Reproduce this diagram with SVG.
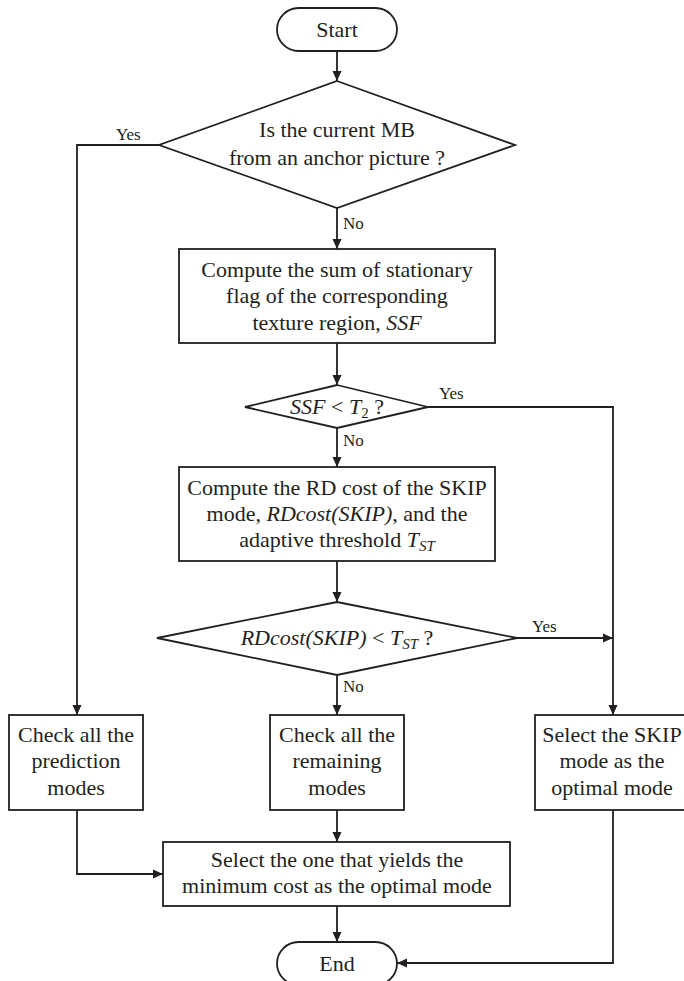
<svg xmlns="http://www.w3.org/2000/svg" width="684" height="981" viewBox="0 0 684 981">
<defs>
<style>
.s{fill:#fff;stroke:#231f20;stroke-width:1.8}
.c{fill:none;stroke:#231f20;stroke-width:1.8}
text{font-family:"Liberation Serif","Times New Roman",serif;fill:#231f20}
.t{font-size:22px;text-anchor:middle}
.l{font-size:17px}
.i{font-style:italic}
</style>
<marker id="a" viewBox="0 0 10 10" refX="10" refY="5" markerWidth="10" markerHeight="10" markerUnits="userSpaceOnUse" orient="auto">
<path d="M0,0.5 L10,5 L0,9.5 Z" fill="#231f20"/>
</marker>
</defs>
<rect width="684" height="981" fill="#fff"/>
<g id="connectors">
<path class="c" d="M337,51 V81" marker-end="url(#a)"/>
<path class="c" d="M159,145 H77 V715" marker-end="url(#a)"/>
<path class="c" d="M337,208 V249" marker-end="url(#a)"/>
<path class="c" d="M337,343 V385" marker-end="url(#a)"/>
<path class="c" d="M428,407 H613 V715" marker-end="url(#a)"/>
<path class="c" d="M337,428 V467" marker-end="url(#a)"/>
<path class="c" d="M337,561 V602" marker-end="url(#a)"/>
<path class="c" d="M517,638 H613" marker-end="url(#a)"/>
<path class="c" d="M337,675 V715" marker-end="url(#a)"/>
<path class="c" d="M337,810 V842" marker-end="url(#a)"/>
<path class="c" d="M77,810 V874 H163" marker-end="url(#a)"/>
<path class="c" d="M337,906 V942" marker-end="url(#a)"/>
<path class="c" d="M613,810 V963 H397" marker-end="url(#a)"/>
<text class="l" x="116" y="140">Yes</text>
<text class="l" x="343" y="229">No</text>
<text class="l" x="439" y="399">Yes</text>
<text class="l" x="343" y="446">No</text>
<text class="l" x="532" y="632">Yes</text>
<text class="l" x="343" y="692">No</text>
</g>
<g id="start">
<rect class="s" x="277" y="8" width="120" height="43" rx="21.5"/>
<text class="t" x="337" y="37">Start</text>
</g>
<g id="anchor">
<path class="s" d="M337,81 L515,145 L337,208 L159,145 Z"/>
<text class="t" x="337" y="137">Is the current MB</text>
<text class="t" x="337" y="165">from an anchor picture ?</text>
</g>
<g id="ssf">
<rect class="s" x="179" y="249" width="316" height="94"/>
<text class="t" x="337" y="277">Compute the sum of stationary</text>
<text class="t" x="337" y="303">flag of the corresponding</text>
<text class="t" x="337" y="330">texture region, <tspan class="i">SSF</tspan></text>
</g>
<g id="ssf-test">
<path class="s" d="M337,385 L428,407 L337,428 L245,407 Z"/>
<text class="t" x="337" y="414"><tspan class="i">SSF</tspan> &lt; <tspan class="i">T</tspan><tspan font-size="15" dy="4">2</tspan><tspan dy="-4"> ?</tspan></text>
</g>
<g id="rdcost">
<rect class="s" x="179" y="467" width="316" height="94"/>
<text class="t" x="337" y="495">Compute the RD cost of the SKIP</text>
<text class="t" x="337" y="521">mode, <tspan class="i">RDcost(SKIP)</tspan>, and the</text>
<text class="t" x="337" y="547">adaptive threshold <tspan class="i">T</tspan><tspan class="i" font-size="15" dy="4">ST</tspan></text>
</g>
<g id="rd-test">
<path class="s" d="M337,602 L517,638 L337,675 L157,638 Z"/>
<text class="t" x="337" y="645"><tspan class="i">RDcost(SKIP)</tspan> &lt; <tspan class="i">T</tspan><tspan class="i" font-size="15" dy="4">ST</tspan><tspan dy="-4"> ?</tspan></text>
</g>
<g id="check-all">
<rect class="s" x="9" y="715" width="134" height="95"/>
<text class="t" x="76" y="742">Check all the</text>
<text class="t" x="76" y="768">prediction</text>
<text class="t" x="76" y="795">modes</text>
</g>
<g id="check-remaining">
<rect class="s" x="270" y="715" width="134" height="95"/>
<text class="t" x="337" y="742">Check all the</text>
<text class="t" x="337" y="768">remaining</text>
<text class="t" x="337" y="795">modes</text>
</g>
<g id="select-skip">
<rect class="s" x="535" y="715" width="156" height="95"/>
<text class="t" x="612" y="742">Select the SKIP</text>
<text class="t" x="612" y="768">mode as the</text>
<text class="t" x="612" y="795">optimal mode</text>
</g>
<g id="select-min">
<rect class="s" x="163" y="842" width="347" height="64"/>
<text class="t" x="337" y="867">Select the one that yields the</text>
<text class="t" x="337" y="893">minimum cost as the optimal mode</text>
</g>
<g id="end">
<rect class="s" x="277" y="942" width="120" height="43" rx="21.5"/>
<text class="t" x="337" y="971">End</text>
</g>
</svg>
